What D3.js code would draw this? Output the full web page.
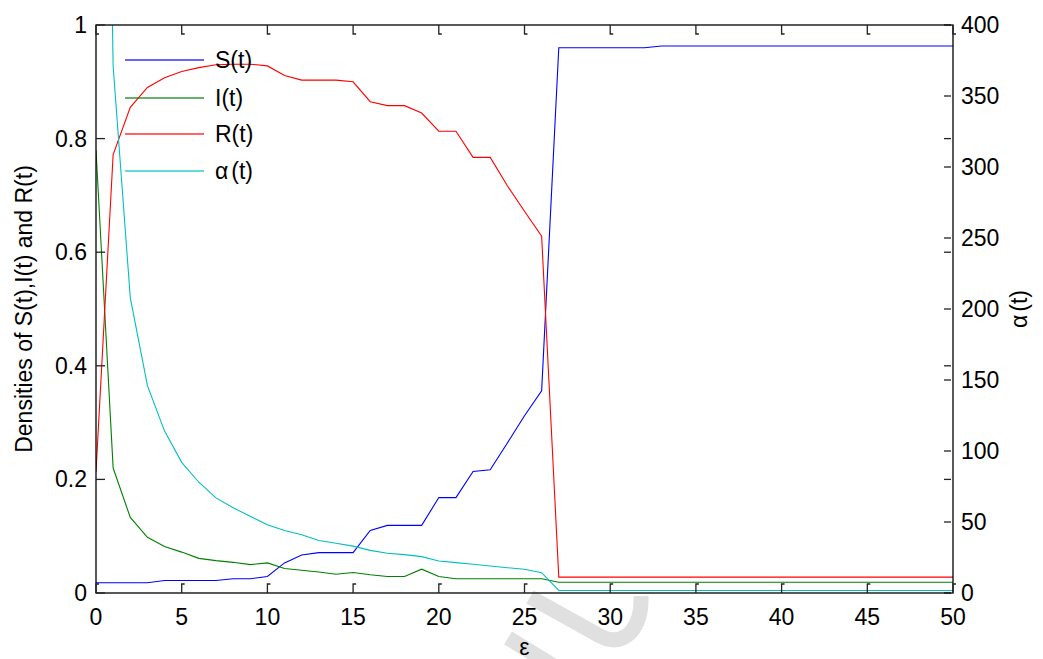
<!DOCTYPE html>
<html>
<head>
<meta charset="utf-8">
<script src="https://cdn.jsdelivr.net/npm/d3@7"></script>
<style>
	body { margin: 0; background: #fff; }
	text { font-family: "Liberation Sans", Arial, sans-serif; fill: #000; }
</style>
</head>
<body>
<div id="chart"></div>
<script>
// epsilon steps 0..50
var eps = [0, 1, 2, 3, 4, 5, 6, 7, 8, 9, 10, 11, 12, 13, 14, 15, 16, 17, 18, 19, 20,
	21, 22, 23, 24, 25, 26, 27, 28, 29, 30, 31, 32, 33, 34, 35, 36, 37, 38, 39, 40,
	41, 42, 43, 44, 45, 46, 47, 48, 49, 50];

var sValues = [0.018, 0.018, 0.018, 0.018, 0.022, 0.022, 0.022, 0.022, 0.025, 0.025, 0.029,
	0.053, 0.067, 0.071, 0.071, 0.071, 0.110, 0.119, 0.119, 0.119, 0.168,
	0.168, 0.214, 0.217, 0.264, 0.312, 0.356, 0.960, 0.960, 0.960, 0.960,
	0.960, 0.960, 0.963, 0.963, 0.963, 0.963, 0.963, 0.963, 0.963, 0.963,
	0.963, 0.963, 0.963, 0.963, 0.963, 0.963, 0.963, 0.963, 0.963, 0.963];

var iValues = [0.780, 0.220, 0.133, 0.098, 0.082, 0.072, 0.061, 0.057, 0.054, 0.050, 0.053,
	0.043, 0.040, 0.037, 0.033, 0.036, 0.032, 0.029, 0.029, 0.042, 0.029,
	0.025, 0.025, 0.025, 0.025, 0.025, 0.025, 0.019, 0.019, 0.019, 0.019,
	0.019, 0.019, 0.019, 0.019, 0.019, 0.019, 0.019, 0.019, 0.019, 0.019,
	0.019, 0.019, 0.019, 0.019, 0.019, 0.019, 0.019, 0.019, 0.019, 0.019];

var rValues = [0.213, 0.772, 0.855, 0.890, 0.907, 0.918, 0.925, 0.930, 0.931, 0.931, 0.928,
	0.911, 0.903, 0.903, 0.903, 0.900, 0.865, 0.858, 0.858, 0.845, 0.813,
	0.813, 0.767, 0.767, 0.717, 0.672, 0.628, 0.028, 0.028, 0.028, 0.028,
	0.028, 0.028, 0.028, 0.028, 0.028, 0.028, 0.028, 0.028, 0.028, 0.028,
	0.028, 0.028, 0.028, 0.028, 0.028, 0.028, 0.028, 0.028, 0.028, 0.028];

// alpha(t) is on the right axis, first value runs off the top
var alphaValues = [1100, 371, 208, 146, 114, 92, 78, 67, 60, 54, 48,
	44, 41, 37, 35, 33, 30, 28, 27, 25.6, 22.5,
	21.4, 20.2, 19, 17.8, 16.7, 14.3, 1.8, 1.8, 1.8, 1.8,
	1.8, 1.8, 1.8, 1.8, 1.8, 1.8, 1.8, 1.8, 1.8, 1.8,
	1.8, 1.8, 1.8, 1.8, 1.8, 1.8, 1.8, 1.8, 1.8, 1.8];

var xTicks = [0, 5, 10, 15, 20, 25, 30, 35, 40, 45, 50];
var leftTicks = [0, 0.2, 0.4, 0.6, 0.8, 1];
var rightTicks = [0, 50, 100, 150, 200, 250, 300, 350, 400];

var series = [
	{ name: "S(t)", values: sValues, color: "#0000ff", axis: "left" },
	{ name: "I(t)", values: iValues, color: "#008000", axis: "left" },
	{ name: "R(t)", values: rValues, color: "#ff0000", axis: "left" },
	{ name: "α", values: alphaValues, color: "#00bfbf", axis: "right" }
];

var margin = { top: 25, right: 90, bottom: 66, left: 96 },
	fullWidth = 1043, fullHeight = 659,
	width = fullWidth - margin.left - margin.right,
	height = fullHeight - margin.top - margin.bottom;

var svg = d3.select("#chart")
	.append("svg")
	.attr("width", fullWidth)
	.attr("height", fullHeight);

// faint watermark behind the plot
svg.append("g")
	.attr("fill", "none")
	.attr("stroke", "#e0e0e0")
	.attr("stroke-width", 15)
	.attr("stroke-linecap", "butt")
	.selectAll("path")
	.data([
		"M530,597 L600,636 Q617,645 630,633 Q642,620 641,596",
		"M508,638 L552,665"
	])
	.join("path")
	.attr("d", d => d);

var g = svg.append("g")
	.attr("transform", "translate(" + margin.left + "," + margin.top + ")");

var x = d3.scaleLinear().domain([0, 50]).range([0, width]);
var yLeft = d3.scaleLinear().domain([0, 1]).range([height, 0]);
var yRight = d3.scaleLinear().domain([0, 400]).range([height, 0]);

g.append("clipPath")
	.attr("id", "plotClip")
	.append("rect")
	.attr("width", width)
	.attr("height", height);

var lines = g.append("g").attr("clip-path", "url(#plotClip)");

series.forEach(s => {
	var y = s.axis == "left" ? yLeft : yRight;
	var line = d3.line()
		.x((d, i) => x(eps[i]))
		.y(d => y(d));
	lines.append("path")
		.datum(s.values)
		.attr("fill", "none")
		.attr("stroke", s.color)
		.attr("stroke-width", 1.1)
		.attr("d", line);
});

// box
g.append("rect")
	.attr("width", width)
	.attr("height", height)
	.attr("fill", "none")
	.attr("stroke", "#000")
	.attr("stroke-width", 1.3);

var tickLen = 9;

// x ticks, bottom and top, pointing inward
var xt = g.append("g").attr("stroke", "#222").attr("stroke-width", 1.3).attr("fill", "none");
xt.selectAll(".bt")
	.data(xTicks)
	.join("path")
	.attr("d", d => "M" + x(d) + "," + height + " v" + (-tickLen) + " h3");
xt.selectAll(".tt")
	.data(xTicks)
	.join("path")
	.attr("d", d => "M" + x(d) + ",0 v" + tickLen + " h3");

// left ticks, also mirrored onto the right edge
var yt = g.append("g").attr("stroke", "#222").attr("stroke-width", 1.3);
yt.selectAll(".lt")
	.data(leftTicks)
	.join("line")
	.attr("x1", 0).attr("x2", tickLen)
	.attr("y1", d => yLeft(d)).attr("y2", d => yLeft(d));
yt.selectAll(".lm")
	.data(leftTicks)
	.join("line")
	.attr("x1", width - 2).attr("x2", width - tickLen)
	.attr("y1", d => yLeft(d)).attr("y2", d => yLeft(d));
yt.selectAll(".rt")
	.data(rightTicks)
	.join("line")
	.attr("x1", width - 2).attr("x2", width - tickLen)
	.attr("y1", d => yRight(d)).attr("y2", d => yRight(d));

var fontSize = 23;

g.append("g")
	.selectAll("text")
	.data(xTicks)
	.join("text")
	.attr("x", d => x(d))
	.attr("y", height + 32)
	.attr("text-anchor", "middle")
	.style("font-size", fontSize + "px")
	.text(d => d);

g.append("g")
	.selectAll("text")
	.data(leftTicks)
	.join("text")
	.attr("x", -9)
	.attr("y", d => yLeft(d) + 8)
	.attr("text-anchor", "end")
	.style("font-size", fontSize + "px")
	.text(d => d3.format("~g")(d));

g.append("g")
	.selectAll("text")
	.data(rightTicks)
	.join("text")
	.attr("x", width + 8)
	.attr("y", d => yRight(d) + 8)
	.attr("text-anchor", "start")
	.style("font-size", fontSize + "px")
	.text(d => d);

// axis titles
svg.append("text")
	.attr("transform", "translate(32," + (margin.top + height / 2) + ") rotate(-90)")
	.attr("text-anchor", "middle")
	.style("font-size", fontSize + "px")
	.text("Densities of S(t),I(t) and R(t)");

var alphaTitle = svg.append("text")
	.attr("transform", "translate(1027," + (margin.top + height / 2) + ") rotate(-90)")
	.attr("text-anchor", "middle")
	.style("font-size", fontSize + "px");
alphaTitle.append("tspan").text("α");
alphaTitle.append("tspan").attr("dx", 3).text("(t)");

svg.append("text")
	.attr("x", margin.left + x(25))
	.attr("y", 655)
	.attr("text-anchor", "middle")
	.style("font-size", fontSize + "px")
	.text("ε");

// legend, no frame
var legendRows = [60, 98, 134, 171];
var legend = svg.append("g");
series.forEach((s, i) => {
	legend.append("line")
		.attr("x1", 125).attr("x2", 204)
		.attr("y1", legendRows[i]).attr("y2", legendRows[i])
		.attr("stroke", s.color)
		.attr("stroke-opacity", 0.8)
		.attr("stroke-width", 1.6);
	var t = legend.append("text")
		.attr("x", 215)
		.attr("y", legendRows[i] + 8)
		.style("font-size", fontSize + "px");
	if (s.axis == "right") {
		t.append("tspan").text("α");
		t.append("tspan").attr("dx", 3).text("(t)");
	} else {
		t.text(s.name);
	}
});
</script>
</body>
</html>
